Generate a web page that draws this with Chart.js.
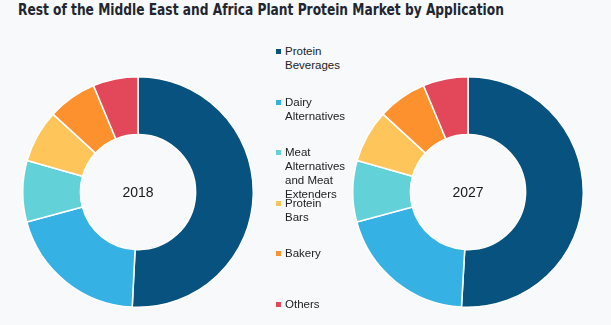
<!DOCTYPE html>
<html><head><meta charset="utf-8">
<script src="https://cdn.jsdelivr.net/npm/chart.js@4"></script>
<style>
html,body{margin:0;padding:0;background:#f7f9fb;width:611px;height:325px;overflow:hidden;font-family:"Liberation Sans",Arial,sans-serif;}
#title{position:absolute;left:18px;top:1px;font-weight:bold;font-size:15px;color:#222630;white-space:nowrap;font-family:"DejaVu Sans Condensed","DejaVu Sans",sans-serif;transform:scaleX(0.906);transform-origin:0 0;}
.cw{position:absolute;top:76px;width:232px;height:232px;}
#legend{position:absolute;left:0;top:0;}
.li{position:absolute;left:276px;width:80px;font-size:11.5px;line-height:14px;color:#222;}
.li span.sw{position:absolute;left:0;top:5px;width:5px;height:5px;}
.li span.tx{display:block;margin-left:9px;width:62px;}
</style></head>
<body>
<div id="title"></div>
<div class="cw" style="left:22px"><canvas id="c1" width="232" height="232"></canvas></div>
<div class="cw" style="left:352px"><canvas id="c2" width="232" height="232"></canvas></div>
<div id="legend"></div>
<script>
const titleText = "Rest of the Middle East and Africa Plant Protein Market by Application";
const categories = ["Protein Beverages","Dairy Alternatives","Meat Alternatives and Meat Extenders","Protein Bars","Bakery","Others"];
const years = ["2018","2027"];
const values2018 = [50.8, 20.0, 8.6, 7.4, 6.9, 6.3];
const values2027 = [50.9, 19.9, 8.6, 7.4, 6.9, 6.3];
const colors = ["#07527e","#35b2e3","#63d1d8","#fec55a","#fd912d","#e2475a"];

document.getElementById('title').textContent = titleText;

const lg = document.getElementById('legend');
categories.forEach((c,i)=>{
  const d = document.createElement('div');
  d.className='li';
  d.style.top = (44 + i*50.6) + 'px';
  d.innerHTML = '<span class="sw" style="background:'+colors[i]+'"></span><span class="tx">'+c+'</span>';
  lg.appendChild(d);
});

const centerText = {
  id:'centerText',
  afterDraw(chart, args, opts){
    const m = chart.getDatasetMeta(0).data[0];
    if(!m) return;
    const ctx = chart.ctx;
    ctx.save();
    ctx.font = '14px "Liberation Sans", Arial, sans-serif';
    ctx.fillStyle = '#1a1a1a';
    ctx.textAlign='center';
    ctx.textBaseline='middle';
    ctx.fillText(opts.text, m.x, m.y+1);
    ctx.restore();
  }
};

function makeChart(id, vals, year){
  new Chart(document.getElementById(id), {
    type:'doughnut',
    data:{labels:categories, datasets:[{data:vals, backgroundColor:colors, borderColor:'#ffffff', borderWidth:1.5}]},
    options:{
      responsive:false, animation:false, cutout:'50%',
      layout:{padding:0},
      plugins:{legend:{display:false}, tooltip:{enabled:false}, centerText:{text:year}}
    },
    plugins:[centerText]
  });
}
makeChart('c1', values2018, years[0]);
makeChart('c2', values2027, years[1]);
</script>
</body></html>
